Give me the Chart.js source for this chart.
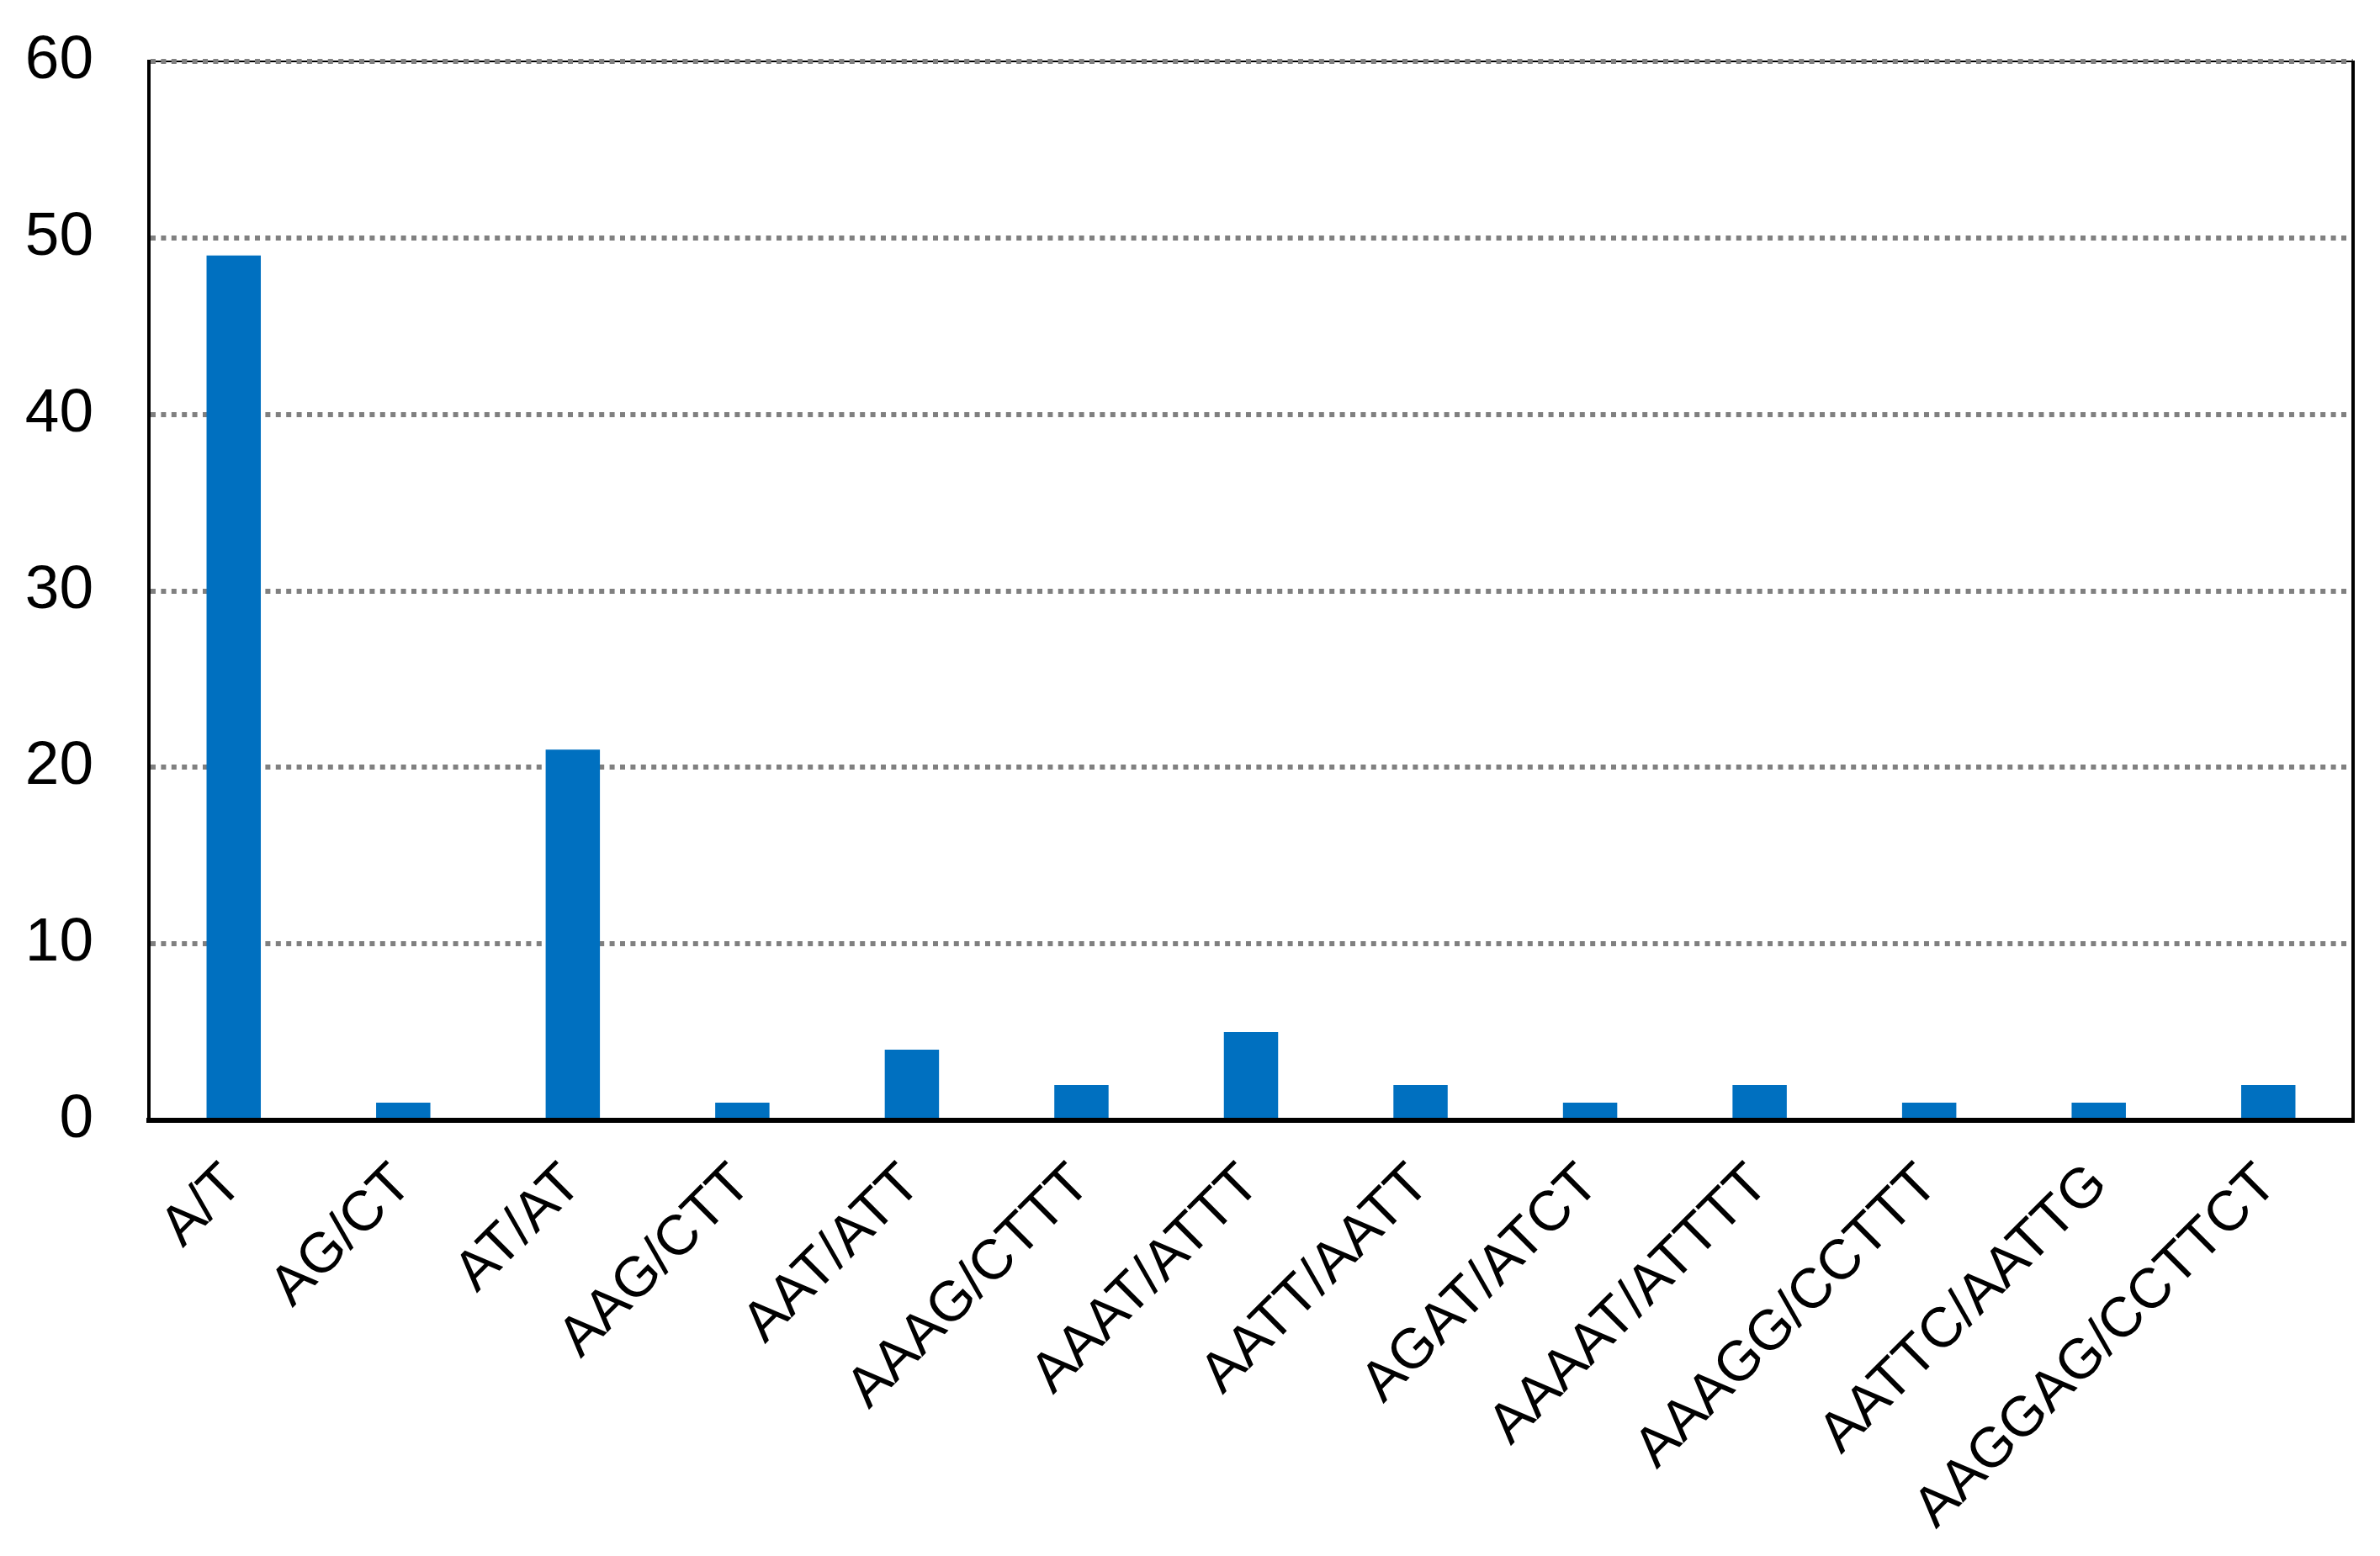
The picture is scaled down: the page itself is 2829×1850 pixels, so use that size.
<!DOCTYPE html>
<html>
<head>
<meta charset="utf-8">
<script src="https://cdn.jsdelivr.net/npm/chart.js@4/dist/chart.umd.min.js"></script>
<style>
  html, body { margin:0; padding:0; background:#fff; }
  canvas { display:block; }
</style>
</head>
<body>
<canvas id="chart" width="2829" height="1850"></canvas>
<script>
// ===== data =====
const motifs = ['A/T','AG/CT','AT/AT','AAG/CTT','AAT/ATT','AAAG/CTTT','AAAT/ATTT',
                'AATT/AATT','AGAT/ATCT','AAAAT/ATTTT','AAAGG/CCTTT','AATTC/AATTG','AAGGAG/CCTTCT'];
const counts = [49, 1, 21, 1, 4, 2, 5, 2, 1, 2, 1, 1, 2];
const yTicks = [0, 10, 20, 30, 40, 50, 60];

const FONT = '"Liberation Sans", Arial, sans-serif';

// top + right frame lines (Excel style box)
const frame = {
  id: 'frame',
  beforeDraw(chart) {
    const { ctx, chartArea: a } = chart;
    ctx.save();
    ctx.strokeStyle = '#000';
    ctx.lineWidth = 2;
    ctx.beginPath();
    ctx.moveTo(a.left, a.top);
    ctx.lineTo(a.right, a.top);
    ctx.stroke();
    ctx.restore();
  },
  afterDraw(chart) {
    const { ctx, chartArea: a } = chart;
    ctx.save();
    ctx.strokeStyle = '#000';
    ctx.lineWidth = 4;
    ctx.beginPath();
    ctx.moveTo(a.right, a.top - 1);
    ctx.lineTo(a.right, a.bottom + 3);
    ctx.stroke();
    ctx.restore();
  }
};

new Chart(document.getElementById('chart'), {
  type: 'bar',
  data: {
    labels: motifs,
    datasets: [{ data: counts, backgroundColor: '#0070C0', borderWidth: 0,
                 barPercentage: 0.32, categoryPercentage: 1 }]
  },
  options: {
    responsive: false,
    animation: false,
    layout: { autoPadding: false, padding: { left: 31, right: 32, top: 73, bottom: 0 } },
    plugins: { legend: { display: false }, tooltip: { enabled: false } },
    scales: {
      x: {
        z: 1,
        grid: { display: false, drawTicks: false },
        border: { color: '#000', width: 6 },
        ticks: { color: '#000', font: { family: FONT, size: 67 },
                 minRotation: 45, maxRotation: 45, padding: 37, autoSkip: false },
        afterFit: (s) => { s.height = 518; }
      },
      y: {
        min: 0, max: 60,
        afterBuildTicks: (s) => { s.ticks = yTicks.map(v => ({ value: v })); },
        afterFit: (s) => { s.width = 146; s.paddingTop = 0; s.paddingBottom = 0; },
        grid: { color: '#808080', lineWidth: 6, drawTicks: false },
        border: { color: '#000', width: 4, dash: [6, 6.4] },
        ticks: { color: '#000', font: { family: FONT, size: 73 }, padding: 66 }
      }
    }
  },
  plugins: [frame]
});
</script>
</body>
</html>
